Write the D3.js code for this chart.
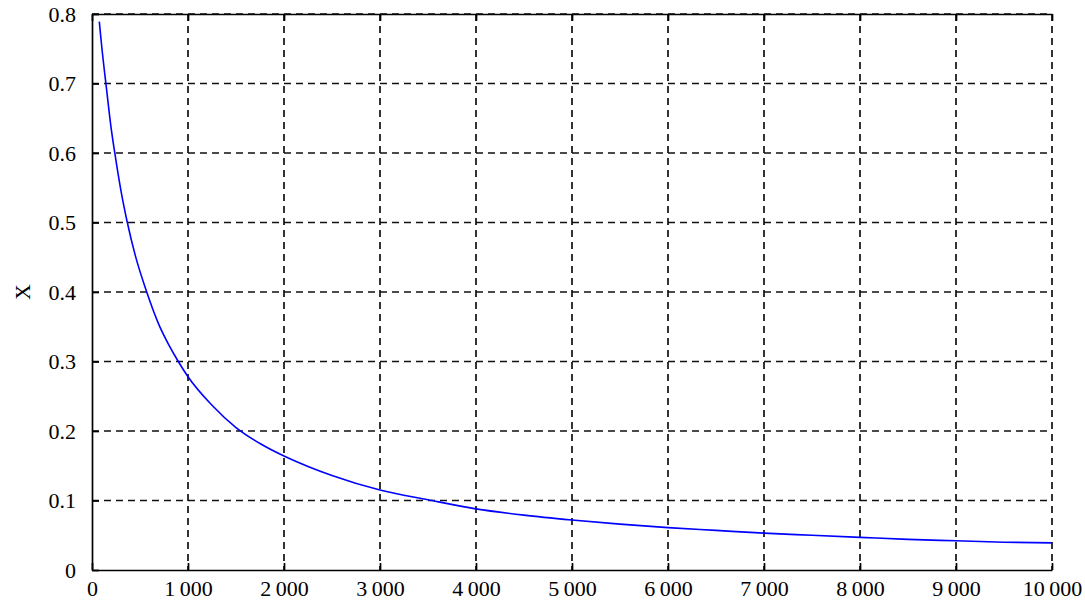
<!DOCTYPE html>
<html>
<head>
<meta charset="utf-8">
<script src="https://cdn.jsdelivr.net/npm/d3@7"></script>
<style>
 body { margin: 0; background: #fff; }
 text { font-family: "Liberation Serif", "Times New Roman", "DejaVu Serif", serif; }
</style>
</head>
<body>
<div id="chart"></div>
<script>
const xValues = [76, 100, 153, 200, 243, 300, 368, 450, 570, 700, 800, 899, 1000, 1250, 1500, 1750, 2000, 2250, 2500, 3000, 3500, 4000, 4500, 5000, 5500, 6000, 6500, 7000, 7500, 8000, 8500, 9000, 9500, 10000];
const yValues = [0.789, 0.755, 0.69, 0.635, 0.595, 0.547, 0.50, 0.453, 0.40, 0.352, 0.324, 0.30, 0.278, 0.237, 0.205, 0.182, 0.164, 0.149, 0.136, 0.115, 0.101, 0.088, 0.079, 0.072, 0.066, 0.061, 0.057, 0.053, 0.050, 0.047, 0.044, 0.042, 0.040, 0.039];
const xTicks = [0, 1000, 2000, 3000, 4000, 5000, 6000, 7000, 8000, 9000, 10000];
const xTickLabels = ["0", "1\u2009000", "2\u2009000", "3\u2009000", "4\u2009000", "5\u2009000", "6\u2009000", "7\u2009000", "8\u2009000", "9\u2009000", "10\u2009000"];
const yTicks = [0, 0.1, 0.2, 0.3, 0.4, 0.5, 0.6, 0.7, 0.8];
const yTickLabels = ["0", "0.1", "0.2", "0.3", "0.4", "0.5", "0.6", "0.7", "0.8"];
const yTitle = "X";

(function () {
 const W = 1085, H = 604;
 const margin = { top: 14, right: 33, bottom: 34, left: 92 };
 const width = W - margin.left - margin.right;
 const height = H - margin.top - margin.bottom;
 const font = '"Liberation Serif", "Times New Roman", serif';

 const data = xValues.map((x, i) => ({ x: x, y: yValues[i] }));

 const x = d3.scaleLinear().domain([0, 10000]).range([0, width]);
 const y = d3.scaleLinear().domain([0, 0.8]).range([height, 0]);

 const svg = d3
  .select("#chart")
  .append("svg")
  .attr("width", W)
  .attr("height", H)
  .append("g")
  .attr("transform", `translate(${margin.left},${margin.top})`);

 // dashed grid
 svg
  .append("g")
  .selectAll("line")
  .data(xTicks.slice(1))
  .enter()
  .append("line")
  .attr("x1", (d) => x(d))
  .attr("x2", (d) => x(d))
  .attr("y1", 0)
  .attr("y2", height)
  .attr("stroke", "#111")
  .attr("stroke-width", 1.7)
  .attr("stroke-dasharray", "7,5");

 svg
  .append("g")
  .selectAll("line")
  .data(yTicks.slice(1))
  .enter()
  .append("line")
  .attr("x1", 0)
  .attr("x2", width)
  .attr("y1", (d) => y(d))
  .attr("y2", (d) => y(d))
  .attr("stroke", "#111")
  .attr("stroke-width", 1.7)
  .attr("stroke-dasharray", "7,5");

 // axes with inward ticks
 const xAxis = svg
  .append("g")
  .attr("transform", `translate(0,${height})`)
  .call(
   d3.axisBottom(x)
    .tickValues(xTicks)
    .tickSizeInner(-7)
    .tickSizeOuter(0)
    .tickFormat((d, i) => xTickLabels[i])
  );

 const xTop = svg
  .append("g")
  .call(
   d3.axisTop(x)
    .tickValues(xTicks)
    .tickSizeInner(-7)
    .tickSizeOuter(0)
    .tickFormat("")
  );

 const yAxis = svg
  .append("g")
  .call(
   d3.axisLeft(y)
    .tickValues(yTicks)
    .tickSizeInner(-7)
    .tickSizeOuter(0)
    .tickPadding(16)
    .tickFormat((d, i) => yTickLabels[i])
  );

 [xAxis, xTop, yAxis].forEach((g) => {
  g.select(".domain").attr("stroke", "#000").attr("stroke-width", 1.7);
  g.selectAll(".tick line").attr("stroke", "#000").attr("stroke-width", 1.7);
  g.selectAll(".tick text")
   .attr("fill", "#000")
   .style("font-size", "22px")
   .style("font-family", font);
 });
 xAxis.selectAll(".tick text").attr("y", 26).attr("dy", 0);

 svg
  .append("text")
  .attr("transform", `translate(${-70},${y(0.4)}) rotate(-90)`)
  .attr("text-anchor", "middle")
  .attr("dy", "0.35em")
  .style("font-size", "22px")
  .style("font-family", font)
  .text(yTitle);

 const line = d3
  .line()
  .x((d) => x(d.x))
  .y((d) => y(d.y))
  .curve(d3.curveMonotoneX);

 svg
  .append("path")
  .datum(data)
  .attr("fill", "none")
  .attr("stroke", "#0000ff")
  .attr("stroke-width", 1.6)
  .attr("d", line);
})();
</script>
</body>
</html>
